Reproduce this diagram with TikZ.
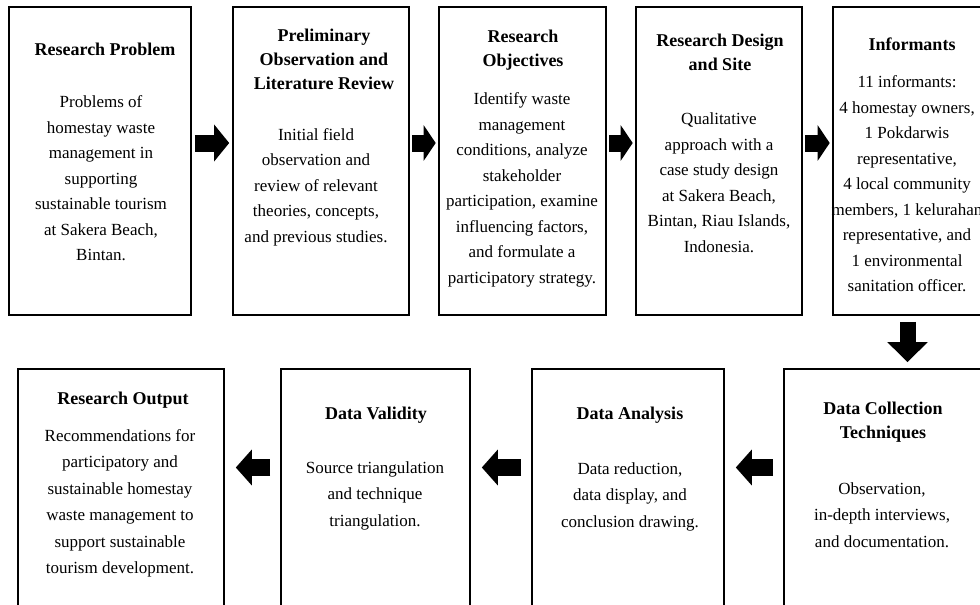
\documentclass[tikz,border=0pt]{standalone}
\usepackage{fontspec}
\setmainfont{Liberation Serif}
\usetikzlibrary{arrows.meta}

\begin{document}
\begin{tikzpicture}
		[x=1pt,y=-1pt,
		box/.style={draw,line width=1.6pt,inner sep=0pt},
		title/.style={font=\fontsize{18}{24}\selectfont\bfseries,align=center,inner sep=0pt},
		body/.style={font=\fontsize{17}{25.5}\selectfont,align=center,inner sep=0pt},
		lowbody/.style={body,font=\fontsize{17}{26.5}\selectfont},
		blockarrow/.style={line width=17pt,-{Triangle[length=15pt,width=36pt]},shorten <=3pt,shorten >=3pt},
		shortarrow/.style={blockarrow,-{Triangle[length=12pt,width=35pt]},shorten <=2.5pt,shorten >=2.5pt},
		backarrow/.style={line width=17pt,-{Triangle[length=16pt,width=35pt]},shorten <=10pt,shorten >=11pt},
		downarrow/.style={line width=16pt,-{Triangle[length=20pt,width=39pt]},shorten <=6pt,shorten >=6pt}]
		\useasboundingbox (0,0) rectangle (980,605);
		\clip (0,0) rectangle (980,605);
		\coordinate (toprow) at (0,143);
		\coordinate (lowrow) at (0,467.5);
		\coordinate (downcol) at (907.5,0);
		\node[box,minimum width=182pt,minimum height=308pt] (problem) at (100,161) {};
		\node[box,minimum width=176pt,minimum height=308pt] (prelim) at (321,161) {};
		\node[box,minimum width=167pt,minimum height=308pt] (objectives) at (522.5,161) {};
		\node[box,minimum width=166pt,minimum height=308pt] (design) at (719,161) {};
		\node[box,minimum width=180pt,minimum height=308pt] (informants) at (923,161) {};
		\node[box,minimum width=206pt,minimum height=271pt] (output) at (121,504.5) {};
		\node[box,minimum width=189pt,minimum height=271pt] (validity) at (375.5,504.5) {};
		\node[box,minimum width=192pt,minimum height=271pt] (analysis) at (628,504.5) {};
		\node[box,minimum width=206pt,minimum height=271pt] (collection) at (887,504.5) {};
		\node[title] (problem-t) at (105,49) {Research Problem};
		\node[body] (problem-b) at (101,178.5) {Problems of\\homestay waste\\management in\\supporting\\sustainable tourism\\at Sakera Beach,\\Bintan.};
		\node[title] (prelim-t) at (324,59) {Preliminary\\Observation and\\Literature Review};
		\node[body] (prelim-b) at (316,187) {Initial field\\observation and\\review of relevant\\theories, concepts,\\and previous studies.};
		\node[title] (objectives-t) at (523,50) {Research\\Objectives};
		\node[body] (objectives-b) at (522,190) {Identify waste\\management\\conditions, analyze\\stakeholder\\participation, examine\\influencing factors,\\and formulate a\\participatory strategy.};
		\node[title] (design-t) at (720,52) {Research Design\\and Site};
		\node[body] (design-b) at (719,182.5) {Qualitative\\approach with a\\case study design\\at Sakera Beach,\\Bintan, Riau Islands,\\Indonesia.};
		\node[title] (informants-t) at (912,44) {Informants};
		\node[body] (informants-b) at (907,184) {11 informants:\\4 homestay owners,\\1 Pokdarwis\\representative,\\4 local community\\members, 1 kelurahan\\representative, and\\1 environmental\\sanitation officer.};
		\node[title] (output-t) at (123,400) {Research Output};
		\node[lowbody] (output-b) at (120,503.5) {Recommendations for\\participatory and\\sustainable homestay\\waste management to\\support sustainable\\tourism development.};
		\node[title] (validity-t) at (376,415) {Data Validity};
		\node[lowbody] (validity-b) at (375,495.5) {Source triangulation\\and technique\\triangulation.};
		\node[title] (analysis-t) at (630,415) {Data Analysis};
		\node[lowbody] (analysis-b) at (630,496.5) {Data reduction,\\data display, and\\conclusion drawing.};
		\node[title] (collection-t) at (883,422.5) {Data Collection\\Techniques};
		\node[lowbody] (collection-b) at (882,515) {Observation,\\in-depth interviews,\\and documentation.};
		\draw[blockarrow] (problem.east |- toprow) -- (prelim.west |- toprow);
		\draw[shortarrow] (prelim.east |- toprow) -- (objectives.west |- toprow);
		\draw[shortarrow] (objectives.east |- toprow) -- (design.west |- toprow);
		\draw[shortarrow] (design.east |- toprow) -- (informants.west |- toprow);
		\draw[downarrow] (informants.south -| downcol) -- (collection.north -| downcol);
		\draw[backarrow] (collection.west |- lowrow) -- (analysis.east |- lowrow);
		\draw[backarrow] (analysis.west |- lowrow) -- (validity.east |- lowrow);
		\draw[backarrow] (validity.west |- lowrow) -- (output.east |- lowrow);
\end{tikzpicture}
\end{document}
